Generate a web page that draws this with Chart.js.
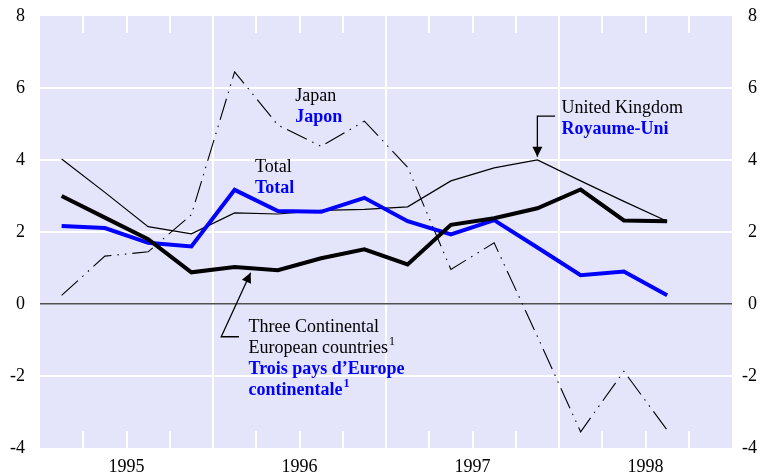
<!DOCTYPE html>
<html>
<head>
<meta charset="utf-8">
<script src="https://cdn.jsdelivr.net/npm/chart.js@4.4.0/dist/chart.umd.min.js"></script>
<style>
  html, body { margin: 0; padding: 0; background: #fff; }
  #wrap { width: 761px; height: 476px; }
</style>
</head>
<body>
<div id="wrap"><canvas id="chart" width="761" height="476"></canvas></div>
<script>
// quarterly series, 1995 Q1 .. 1998 Q3
const quarters = ['1995 Q1', '1995 Q2', '1995 Q3', '1995 Q4', '1996 Q1', '1996 Q2', '1996 Q3', '1996 Q4',
                  '1997 Q1', '1997 Q2', '1997 Q3', '1997 Q4', '1998 Q1', '1998 Q2', '1998 Q3'];
const years = ['1995', '1996', '1997', '1998'];

const japan = [0.24, 1.33, 1.45, 2.48, 6.45, 4.97, 4.38, 5.08, 3.8, 0.96, 1.7, -0.9, -3.55, -1.87, -3.5];
const unitedKingdom = [4.03, 3.1, 2.15, 1.95, 2.53, 2.5, 2.6, 2.63, 2.7, 3.42, 3.78, 4.0, 3.42, 2.85, 2.3];
const threeContinental = [3.0, 2.4, 1.8, 0.88, 1.03, 0.94, 1.27, 1.52, 1.1, 2.2, 2.38, 2.66, 3.18, 2.32, 2.3];
const total = [2.17, 2.11, 1.7, 1.6, 3.17, 2.58, 2.56, 2.95, 2.3, 1.93, 2.33, 1.57, 0.8, 0.9, 0.24];

const yMin = -4, yMax = 8, yStep = 2;

const FONT = "'Liberation Serif', 'Times New Roman', serif";
const bgColor = '#e4e4fb';

// each quarter sits in the middle of its slot on a 0..16 quarter axis
function toPoints(values) {
    return values.map((v, i) => ({ x: i + 0.5, y: v }));
}

// background of the plot area
const backdrop = {
    id: 'backdrop',
    beforeDraw(chart) {
        const { ctx, chartArea: a } = chart;
        ctx.save();
        ctx.fillStyle = bgColor;
        ctx.fillRect(a.left, a.top, a.right - a.left, a.bottom - a.top);
        ctx.restore();
    }
};

// short white quarter ticks at top and bottom of the plot
const quarterTicks = {
    id: 'quarterTicks',
    beforeDatasetsDraw(chart) {
        const { ctx, chartArea: a, scales } = chart;
        ctx.save();
        ctx.strokeStyle = '#ffffff';
        ctx.lineWidth = 2;
        for (let q = 1; q < years.length * 4; q++) {
            if (q % 4 === 0) continue;
            const px = Math.round(scales.x.getPixelForValue(q));
            ctx.beginPath();
            ctx.moveTo(px, a.top);
            ctx.lineTo(px, a.top + 17);
            ctx.moveTo(px, a.bottom);
            ctx.lineTo(px, a.bottom - 17);
            ctx.stroke();
        }
        ctx.restore();
    }
};

function drawArrow(ctx, pts, headLen, headWidth) {
    ctx.beginPath();
    ctx.moveTo(pts[0][0], pts[0][1]);
    for (let i = 1; i < pts.length; i++) ctx.lineTo(pts[i][0], pts[i][1]);
    ctx.stroke();
    const [x1, y1] = pts[pts.length - 2];
    const [x2, y2] = pts[pts.length - 1];
    const ang = Math.atan2(y2 - y1, x2 - x1);
    ctx.beginPath();
    ctx.moveTo(x2, y2);
    ctx.lineTo(x2 - headLen * Math.cos(ang) + headWidth / 2 * Math.sin(ang),
               y2 - headLen * Math.sin(ang) - headWidth / 2 * Math.cos(ang));
    ctx.lineTo(x2 - headLen * Math.cos(ang) - headWidth / 2 * Math.sin(ang),
               y2 - headLen * Math.sin(ang) + headWidth / 2 * Math.cos(ang));
    ctx.closePath();
    ctx.fill();
}

// a text line, optionally with a superscript "1"
function drawLine(ctx, x, y, text, color, bold, sup) {
    ctx.font = (bold ? 'bold ' : '') + '18px ' + FONT;
    ctx.fillStyle = color;
    ctx.fillText(text, x, y);
    if (sup) {
        const w = ctx.measureText(text).width;
        ctx.font = (bold ? 'bold ' : '') + '12px ' + FONT;
        ctx.fillText(sup, x + w + 1, y - 8);
    }
}

const labels = {
    id: 'labels',
    afterDatasetsDraw(chart) {
        const { ctx, scales } = chart;
        const X = v => scales.x.getPixelForValue(v);
        const Y = v => scales.y.getPixelForValue(v);
        const lh = 21;
        ctx.save();
        ctx.textAlign = 'left';
        ctx.textBaseline = 'alphabetic';

        drawLine(ctx, X(5.9), Y(5.65), 'Japan', '#000', false);
        drawLine(ctx, X(5.9), Y(5.65) + lh, 'Japon', '#0000ff', true);

        drawLine(ctx, X(4.97), Y(3.675), 'Total', '#000', false);
        drawLine(ctx, X(4.97), Y(3.675) + lh, 'Total', '#0000ff', true);

        drawLine(ctx, X(12.06), Y(5.31), 'United Kingdom', '#000', false);
        drawLine(ctx, X(12.06), Y(5.31) + lh, 'Royaume-Uni', '#0000ff', true);

        const tx = X(4.82), ty = Y(-0.77);
        drawLine(ctx, tx, ty, 'Three Continental', '#000', false);
        drawLine(ctx, tx, ty + lh, 'European countries', '#000', false, '1');
        drawLine(ctx, tx, ty + 2 * lh, 'Trois pays d\u2019Europe', '#0000ff', true);
        drawLine(ctx, tx, ty + 3 * lh, 'continentale', '#0000ff', true, '1');

        ctx.strokeStyle = '#000';
        ctx.fillStyle = '#000';
        ctx.lineWidth = 1.3;
        drawArrow(ctx, [[X(11.91), Y(5.22)], [X(11.5), Y(5.22)], [X(11.5), Y(4.09)]], 10, 10);
        drawArrow(ctx, [[X(4.6), Y(-0.91)], [X(4.19), Y(-0.91)], [X(4.87), Y(0.87)]], 10, 10);
        ctx.restore();
    }
};

const yGridColor = ctx => {
    const v = ctx.tick.value;
    if (v === 0) return '#505050';
    if (v === yMin || v === yMax) return 'rgba(0,0,0,0)';
    return '#ffffff';
};

function fitY(width) {
    return s => {
        s.width = width;
        s.paddingTop = 0;
        s.paddingBottom = 0;
    };
}

new Chart(document.getElementById('chart'), {
    type: 'line',
    data: {
        labels: quarters,
        datasets: [
            {
                label: 'Three Continental European countries',
                data: toPoints(threeContinental),
                borderColor: '#000000',
                borderWidth: 4,
                order: 1
            },
            {
                label: 'Total',
                data: toPoints(total),
                borderColor: '#0000ff',
                borderWidth: 4,
                order: 2
            },
            {
                label: 'United Kingdom',
                data: toPoints(unitedKingdom),
                borderColor: '#000000',
                borderWidth: 1.2,
                order: 3
            },
            {
                label: 'Japan',
                data: toPoints(japan),
                borderColor: '#000000',
                borderWidth: 1.1,
                borderDash: [22, 6, 1.5, 6, 1.5, 6],
                order: 4
            }
        ]
    },
    options: {
        responsive: false,
        devicePixelRatio: 1,
        animation: false,
        layout: { padding: { top: 16, left: 0, right: 4, bottom: 0 } },
        elements: {
            point: { radius: 0, hoverRadius: 0 },
            line: { tension: 0, fill: false, borderCapStyle: 'butt', borderJoinStyle: 'miter' }
        },
        plugins: {
            legend: { display: false },
            tooltip: { enabled: false }
        },
        scales: {
            x: {
                type: 'linear',
                min: 0,
                max: years.length * 4,
                afterFit: s => {
                    s.height = 28;
                    s.paddingLeft = 0;
                    s.paddingRight = 0;
                },
                border: { display: false },
                grid: {
                    drawTicks: false,
                    lineWidth: 2,
                    color: ctx => {
                        const v = ctx.tick.value;
                        return (v % 4 === 0 && v > 0 && v < years.length * 4) ? '#ffffff' : 'rgba(0,0,0,0)';
                    }
                },
                ticks: {
                    stepSize: 1,
                    autoSkip: false,
                    maxRotation: 0,
                    padding: 8,
                    color: '#000',
                    font: { family: FONT, size: 18 },
                    callback: v => (v % 4 === 2 ? years[(v - 2) / 4] : '')
                }
            },
            y: {
                position: 'left',
                min: yMin,
                max: yMax,
                afterFit: fitY(40),
                border: { display: false },
                grid: {
                    drawTicks: false,
                    color: yGridColor,
                    lineWidth: ctx => (ctx.tick.value === 0 ? 1.6 : 2)
                },
                ticks: {
                    stepSize: yStep,
                    padding: 15,
                    color: '#000',
                    font: { family: FONT, size: 18 }
                }
            },
            y2: {
                position: 'right',
                min: yMin,
                max: yMax,
                afterFit: fitY(25),
                border: { display: false },
                grid: { display: false, drawTicks: false },
                ticks: {
                    stepSize: yStep,
                    crossAlign: 'far',
                    padding: 0,
                    color: '#000',
                    font: { family: FONT, size: 18 }
                }
            }
        }
    },
    plugins: [backdrop, quarterTicks, labels]
});
</script>
</body>
</html>
